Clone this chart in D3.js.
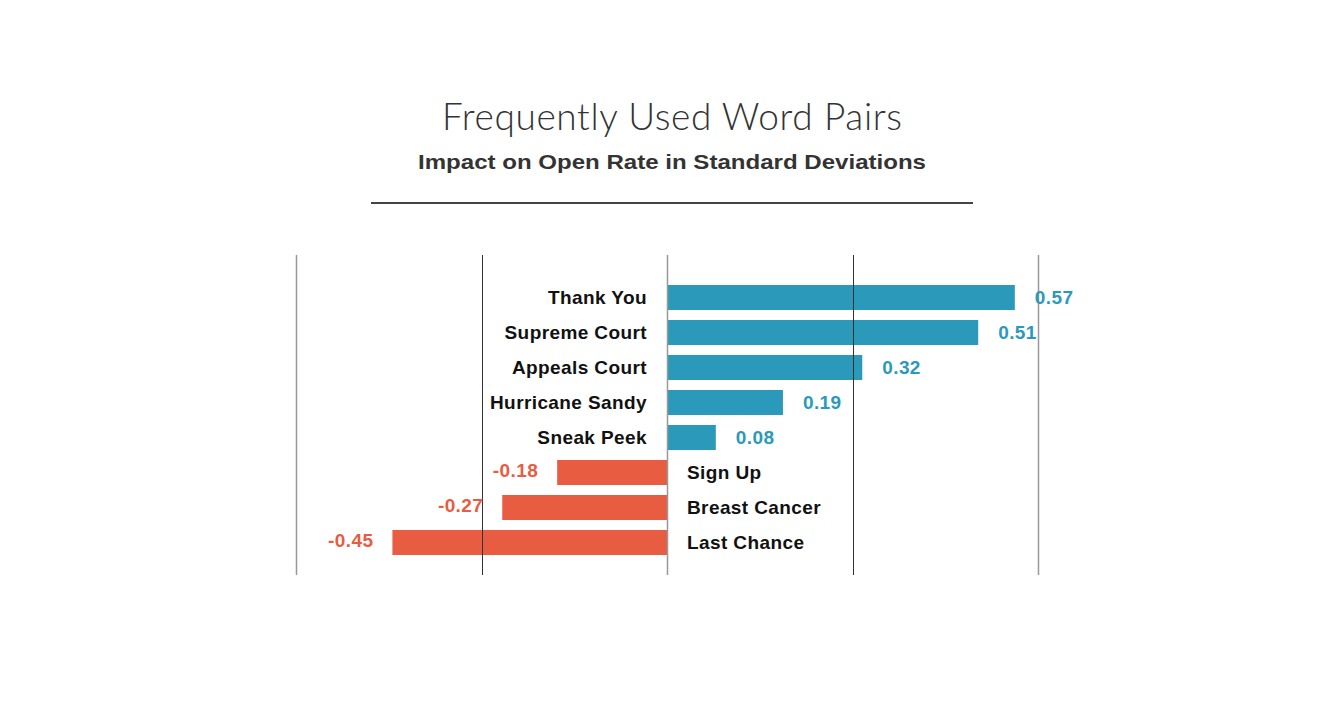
<!DOCTYPE html>
<html lang="en">
<head>
<meta charset="utf-8">
<script src="https://cdn.jsdelivr.net/npm/d3@7"></script>
<style>
    body { margin: 0; background: #fff; }
    svg { display: block; }
</style>
</head>
<body>
<div id="chart"></div>
<script>
    const categories = ['Thank You', 'Supreme Court', 'Appeals Court', 'Hurricane Sandy', 'Sneak Peek',
        'Sign Up', 'Breast Cancer', 'Last Chance'];
    const values = [0.57, 0.51, 0.32, 0.19, 0.08, -0.18, -0.27, -0.45];
    const labels = ['0.57', '0.51', '0.32', '0.19', '0.08', '-0.18', '-0.27', '-0.45'];

    (() => {
        const width = 1344, height = 713;
        const blue = '#2b9aba', red = '#e85c42';

        const svg = d3.select('#chart').append('svg')
            .attr('width', width).attr('height', height);

        // titles
        svg.append('text')
            .attr('x', 442).attr('y', 130)
            .attr('textLength', 460)
            .attr('lengthAdjust', 'spacing')
            .style('font-family', 'Lato, "Open Sans", sans-serif')
            .style('font-weight', 300)
            .style('font-size', '37px')
            .attr('fill', '#333')
            .text('Frequently Used Word Pairs');
        svg.append('text')
            .attr('x', 418).attr('y', 169)
            .attr('textLength', 508)
            .attr('lengthAdjust', 'spacingAndGlyphs')
            .style('font-family', '"Liberation Sans", Arial, sans-serif')
            .style('font-weight', 700)
            .style('font-size', '20.5px')
            .attr('fill', '#333')
            .text('Impact on Open Rate in Standard Deviations');
        svg.append('line')
            .attr('x1', 371).attr('x2', 973)
            .attr('y1', 203).attr('y2', 203)
            .attr('stroke', '#444').attr('stroke-width', 2);

        const x = d3.scaleLinear().domain([-0.608, 0.608]).range([296, 1038]);
        const y = d3.scaleBand().domain(categories).range([280, 560]).paddingInner(10 / 35).paddingOuter(5 / 35);
        const dom = x.domain();
        const grid = d3.range(5).map(i => dom[0] + i * (dom[1] - dom[0]) / 4);

        // bars
        svg.append('g').selectAll('rect')
            .data(values)
            .join('rect')
            .attr('x', d => x(Math.min(0, d)))
            .attr('width', d => Math.abs(x(d) - x(0)))
            .attr('y', (d, i) => y(categories[i]))
            .attr('height', y.bandwidth())
            .attr('fill', d => d >= 0 ? blue : red);

        // grid lines on top of bars
        svg.append('g').selectAll('line')
            .data(grid)
            .join('line')
            .attr('x1', d => Math.round(x(d)) + 0.5)
            .attr('x2', d => Math.round(x(d)) + 0.5)
            .attr('y1', 255).attr('y2', 575)
            .attr('stroke', (d, i) => i % 2 === 0 ? '#999' : '#333')
            .attr('stroke-width', (d, i) => i % 2 === 0 ? 1.5 : 1);

        const font = '"Liberation Sans", Arial, sans-serif';

        // category labels
        svg.append('g').selectAll('text')
            .data(values)
            .join('text')
            .attr('x', d => d >= 0 ? x(0) - 20 : x(0) + 20)
            .attr('y', (d, i) => y(categories[i]) + y.bandwidth() / 2)
            .attr('dy', '0.35em')
            .attr('text-anchor', d => d >= 0 ? 'end' : 'start')
            .style('font-family', font)
            .style('font-weight', 700)
            .style('font-size', '19px')
            .style('letter-spacing', '0.4px')
            .attr('fill', '#111')
            .text((d, i) => categories[i]);

        // value labels
        svg.append('g').selectAll('text')
            .data(values)
            .join('text')
            .attr('x', d => d >= 0 ? x(d) + 20 : x(d) - 19)
            .attr('y', (d, i) => y(categories[i]) + y.bandwidth() / 2 - (d < 0 ? 2 : 0))
            .attr('dy', '0.35em')
            .attr('text-anchor', d => d >= 0 ? 'start' : 'end')
            .style('font-family', font)
            .style('font-weight', 700)
            .style('font-size', '19px')
            .style('letter-spacing', '0.4px')
            .attr('fill', d => d >= 0 ? blue : red)
            .text((d, i) => labels[i]);
    })();
</script>
</body>
</html>
